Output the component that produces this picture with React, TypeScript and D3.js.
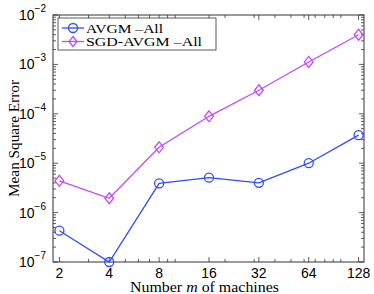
import React from "react";
import * as d3 from "d3";

const machines = [2, 4, 8, 16, 32, 64, 128];
const avgmAll = [4.3e-7, 1.0e-7, 3.9e-6, 5.1e-6, 4.0e-6, 1.0e-5, 3.7e-5];
const sgdAvgmAll = [4.4e-6, 1.95e-6, 2.1e-5, 8.9e-5, 3.0e-4, 1.12e-3, 3.98e-3];
const yExponents = [-7, -6, -5, -4, -3, -2];
const xMinor = [3, 5, 6, 7, 9, 10, 20, 30, 40, 50, 60, 70, 80, 90, 100];

const BLUE = "#2f4cf6";
const PURPLE = "#c04aff";

export default function App() {
  const W = 374, H = 294;
  const m = { left: 53, right: 10, top: 15, bottom: 32 };
  const x = d3.scaleLog().base(2).domain([1.83, 138]).range([m.left, W - m.right]);
  const y = d3.scaleLog().domain([1e-7, 1e-2]).range([H - m.bottom, m.top]);
  const [x0, x1] = x.range();
  const [y0, y1] = y.range();

  const line = d3.line<number>().x((_, i) => x(machines[i])).y((d) => y(d));

  const yMinor: number[] = [];
  for (let e = -7; e < -2; e++) for (let k = 2; k <= 9; k++) yMinor.push(k * Math.pow(10, e));

  const sans = "'Liberation Sans', Arial, sans-serif";
  const serif = "'Liberation Serif', 'Times New Roman', serif";

  const diamond = (cx: number, cy: number, r: number) =>
    `M${cx},${cy - r}L${cx + r * 0.8},${cy}L${cx},${cy + r}L${cx - r * 0.8},${cy}Z`;

  return (
    <svg width={W} height={H} style={{ position: "absolute", left: 0, top: 0, background: "#fff" }}>
      {/* ticks */}
      <g stroke="#333" strokeWidth={0.8}>
        {machines.map((d) => (
          <g key={"xt" + d}>
            <line x1={x(d)} x2={x(d)} y1={y0} y2={y0 - 5} />
            <line x1={x(d)} x2={x(d)} y1={y1} y2={y1 + 5} />
          </g>
        ))}
        {xMinor.map((d) => (
          <g key={"xm" + d}>
            <line x1={x(d)} x2={x(d)} y1={y0} y2={y0 - 3} />
            <line x1={x(d)} x2={x(d)} y1={y1} y2={y1 + 3} />
          </g>
        ))}
        {yExponents.map((e) => (
          <g key={"yt" + e}>
            <line x1={x0} x2={x0 + 5} y1={y(Math.pow(10, e))} y2={y(Math.pow(10, e))} />
            <line x1={x1} x2={x1 - 5} y1={y(Math.pow(10, e))} y2={y(Math.pow(10, e))} />
          </g>
        ))}
        {yMinor.map((d, i) => (
          <g key={"ym" + i}>
            <line x1={x0} x2={x0 + 3} y1={y(d)} y2={y(d)} />
            <line x1={x1} x2={x1 - 3} y1={y(d)} y2={y(d)} />
          </g>
        ))}
      </g>
      <rect x={x0} y={y1} width={x1 - x0} height={y0 - y1} fill="none" stroke="#333" strokeWidth={1} />

      {/* series */}
      <path d={line(sgdAvgmAll) || ""} fill="none" stroke={PURPLE} strokeWidth={1.3} />
      {sgdAvgmAll.map((d, i) => (
        <path key={"sd" + i} d={diamond(x(machines[i]), y(d), 5.5)} fill="none" stroke={PURPLE} strokeWidth={1.3} />
      ))}
      <path d={line(avgmAll) || ""} fill="none" stroke={BLUE} strokeWidth={1.3} />
      {avgmAll.map((d, i) => (
        <circle key={"ac" + i} cx={x(machines[i])} cy={y(d)} r={4.5} fill="none" stroke={BLUE} strokeWidth={1.3} />
      ))}

      {/* tick labels */}
      {machines.map((d) => (
        <text key={"xl" + d} x={x(d)} y={y0 + 16} textAnchor="middle" fontFamily={sans} fontSize={14} fill="#000">
          {d}
        </text>
      ))}
      {yExponents.map((e) => (
        <text key={"yl" + e} x={x0 - 7} y={y(Math.pow(10, e)) + 5} textAnchor="end" fontFamily={sans} fontSize={14} fill="#000">
          10
          <tspan dy={-8} fontSize={10}>{"\u2212" + Math.abs(e)}</tspan>
        </text>
      ))}

      {/* axis titles */}
      <text x={130} y={H - 2} fontFamily={serif} fontSize={14} fill="#000" textLength={149} lengthAdjust="spacingAndGlyphs">
        Number <tspan fontStyle="italic">m</tspan> of machines
      </text>
      <text transform={`translate(19,${(y0 + y1) / 2}) rotate(-90)`} textAnchor="middle" fontFamily={serif} fontSize={14} fill="#000" textLength={117} lengthAdjust="spacingAndGlyphs">
        Mean Square Error
      </text>

      {/* legend */}
      <g>
        <rect x={58} y={18} width={158} height={32} fill="#fff" stroke="#333" strokeWidth={0.8} />
        <line x1={62} x2={84} y1={28} y2={28} stroke={BLUE} strokeWidth={1.3} />
        <circle cx={73} cy={28} r={4.5} fill="none" stroke={BLUE} strokeWidth={1.3} />
        <text x={86} y={32.5} fontFamily={serif} fontSize={13.5} fill="#000" textLength={77} lengthAdjust="spacingAndGlyphs">AVGM –All</text>
        <line x1={62} x2={84} y1={41.5} y2={41.5} stroke={PURPLE} strokeWidth={1.3} />
        <path d={diamond(73, 41.5, 5)} fill="none" stroke={PURPLE} strokeWidth={1.3} />
        <text x={86} y={46} fontFamily={serif} fontSize={13.5} fill="#000" textLength={116} lengthAdjust="spacingAndGlyphs">SGD-AVGM –All</text>
      </g>
    </svg>
  );
}
